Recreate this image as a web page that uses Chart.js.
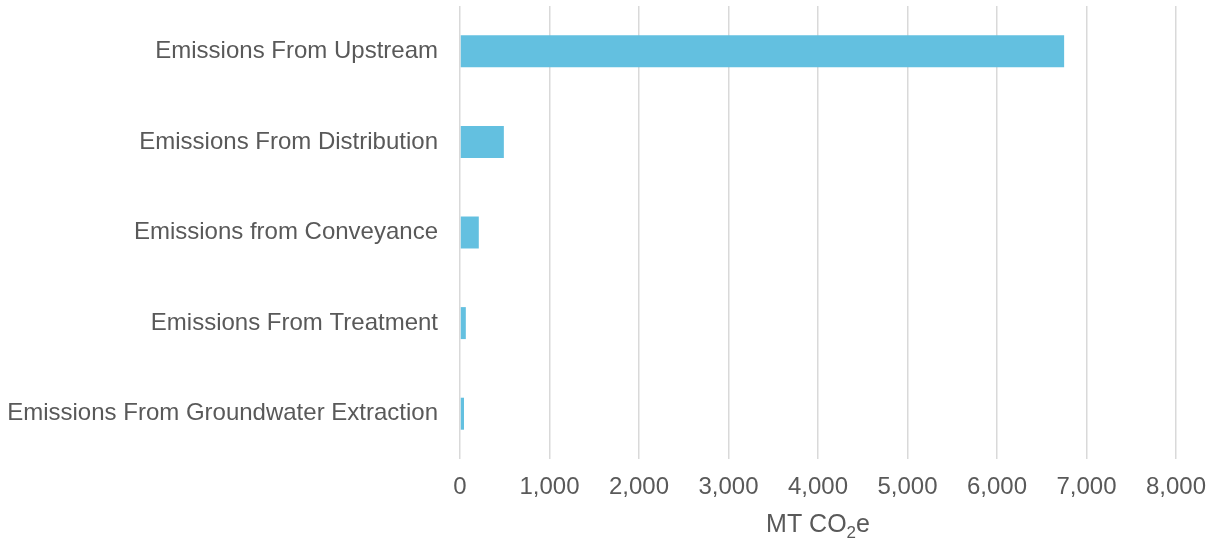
<!DOCTYPE html>
<html>
<head>
<meta charset="utf-8">
<script src="https://cdn.jsdelivr.net/npm/chart.js@4/dist/chart.umd.min.js"></script>
<style>
  html, body { margin: 0; padding: 0; background: #fff; }
  #wrap { width: 1217px; height: 541px; }
</style>
</head>
<body>
<div id="wrap"><canvas id="myChart"></canvas></div>
<script>
const categorias = [
  'Emissions From Upstream',
  'Emissions From Distribution',
  'Emissions from Conveyance',
  'Emissions From Treatment',
  'Emissions From Groundwater Extraction'
];
// MT CO2e por fuente
const emisiones = [6750, 490, 210, 65, 45];
const ejeMin = 0;
const ejeMax = 8000;
const ejePaso = 1000;

const FUENTE = '"Liberation Sans", Arial, sans-serif';
const GRIS = '#595959';

// titulo del eje x con el 2 en subindice
const tituloEje = {
  id: 'tituloEje',
  afterDraw(chart) {
    const ctx = chart.ctx;
    const area = chart.chartArea;
    const base = 532;
    const partes = [
      { t: 'MT CO', size: 25, dy: 0 },
      { t: '2', size: 17, dy: 6 },
      { t: 'e', size: 25, dy: 0 }
    ];
    ctx.save();
    ctx.fillStyle = GRIS;
    ctx.textBaseline = 'alphabetic';
    let total = 0;
    partes.forEach(p => {
      ctx.font = p.size + 'px ' + FUENTE;
      p.w = ctx.measureText(p.t).width;
      total += p.w;
    });
    let x = (area.left + area.right) / 2 - total / 2;
    partes.forEach(p => {
      ctx.font = p.size + 'px ' + FUENTE;
      ctx.fillText(p.t, x, base + p.dy);
      x += p.w;
    });
    ctx.restore();
  }
};

const config = {
  type: 'bar',
  data: {
    labels: categorias,
    datasets: [{
      data: emisiones,
      backgroundColor: '#63c0e0',
      barPercentage: 0.353,
      categoryPercentage: 1
    }]
  },
  options: {
    indexAxis: 'y',
    responsive: true,
    maintainAspectRatio: false,
    animation: false,
    layout: { padding: { top: 6, left: 8, right: 41, bottom: 0 } },
    plugins: {
      legend: { display: false },
      tooltip: { enabled: false }
    },
    scales: {
      x: {
        min: ejeMin,
        max: ejeMax,
        border: { display: false },
        grid: { color: '#d9d9d9', lineWidth: 1.5, drawTicks: false },
        ticks: {
          stepSize: ejePaso,
          padding: 14,
          color: GRIS,
          font: { family: FUENTE, size: 24 },
          maxRotation: 0,
          callback: v => v.toLocaleString('en-US')
        },
        afterFit: s => {
          s.height = 82;
          s.paddingLeft = 0;
          s.paddingRight = 0;
        }
      },
      y: {
        border: { display: false },
        grid: { display: false, drawTicks: false },
        ticks: {
          padding: 22,
          color: GRIS,
          font: { family: FUENTE, size: 24 }
        },
        afterFit: s => {
          s.width = 452;
          s.paddingTop = 0;
          s.paddingBottom = 0;
        }
      }
    }
  },
  plugins: [tituloEje]
};

const myChart = new Chart(document.getElementById('myChart'), config);
</script>
</body>
</html>
